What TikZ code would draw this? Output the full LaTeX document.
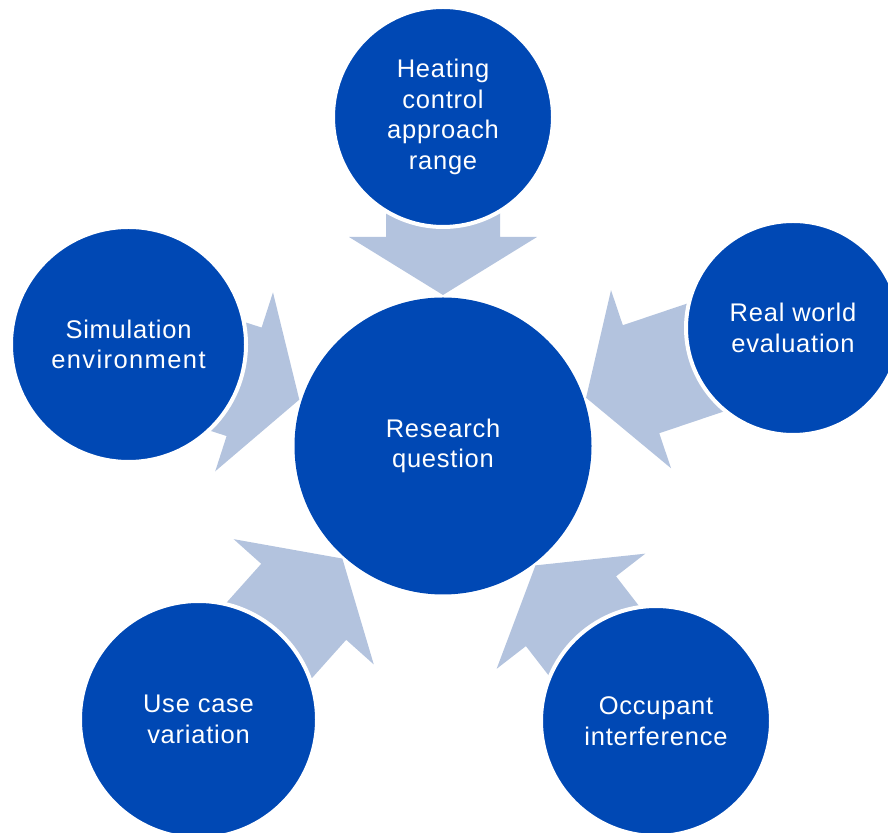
\documentclass[tikz,border=0pt]{standalone}
\usepackage{fontspec}
\setmainfont{Liberation Sans}[LetterSpace=3]
\newfontfamily\largo{Liberation Sans}[LetterSpace=5.5]
\usepackage{tikz}
\usetikzlibrary{calc, backgrounds}

\newcommand{\texto}{\fontsize{25.5}{30.7}\selectfont}

% seta de bloco: do círculo #1 até à borda do círculo #2
\newcommand{\setabloco}[2]{%
  \fill[seta] let \p1=($(#1)-(#2)$), \n1={atan2(\y1,\x1)} in
    ($(#2)+(\n1:151)$)
    -- ($(#2)+(\n1:209)+(\n1+90:94)$)
    -- ($(#2)+(\n1:209)+(\n1+90:57)$)
    -- ($(#2)+(\n1:300)+(\n1+90:57)$)
    -- ($(#2)+(\n1:300)+(\n1-90:57)$)
    -- ($(#2)+(\n1:209)+(\n1-90:57)$)
    -- ($(#2)+(\n1:209)+(\n1-90:94)$) -- cycle;}

\begin{document}
\begin{tikzpicture}[x=1pt, y=1pt]
% --- CÍRCULOS AZUIS COM ANEL BRANCO E SETAS CONVERGENTES ---
\definecolor{azul}{HTML}{0048B4}
\definecolor{cinzaazul}{HTML}{B3C3DE}
\tikzset{
  bola/.style={circle, fill=azul, draw=white, line width=4pt, inner sep=0pt,
    text=white, align=center, font=\texto},
  seta/.style={fill=cinzaazul, draw=none},
}
\useasboundingbox (0,0) rectangle (888,832);

% LAYER 1: Círculo central
\node[bola, draw=none, minimum size=297pt] (pergunta) at (443,386) {Research\\question};

% LAYER 2: Círculos de fora
\node[bola, minimum size=220pt] (aquecimento) at (443,715) {Heating\\control\\approach\\range};
\node[bola, minimum size=214pt] (real) at (793,504) {Real world\\evaluation};
\node[bola, minimum size=235pt] (simulacao) at (128.5,487.5) {Simulation\\{\largo environment}};
\node[bola, minimum size=237pt] (caso) at (198.5,112.5) {Use case\\variation};
\node[bola, minimum size=230pt] (ocupante) at (656,111) {Occupant\\interference};

% LAYER 0: Setas (por baixo dos círculos)
\begin{scope}[on background layer]
  \foreach \c in {aquecimento, real, simulacao, caso, ocupante}
    \setabloco{\c}{pergunta};
\end{scope}
\end{tikzpicture}
\end{document}
